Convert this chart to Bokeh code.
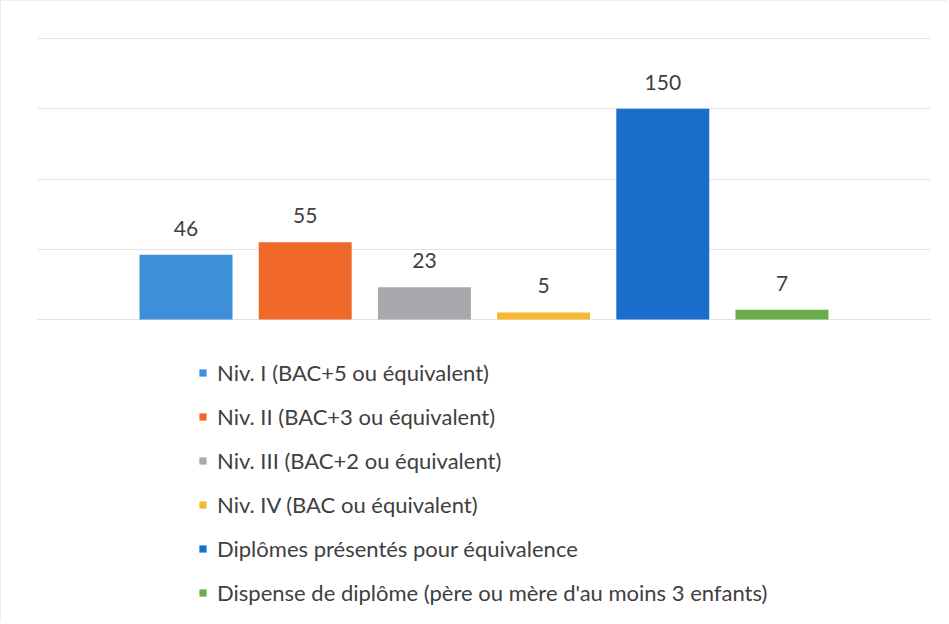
from bokeh.plotting import figure
from bokeh.models import ColumnDataSource, FixedTicker, Range1d, Legend, LegendItem, LabelSet
from bokeh.core.properties import value
from bokeh.embed import file_html
from bokeh.resources import INLINE

categories = [
    "Niv. I (BAC+5 ou équivalent)",
    "Niv. II (BAC+3 ou équivalent)",
    "Niv. III (BAC+2 ou équivalent)",
    "Niv. IV (BAC ou équivalent)",
    "Diplômes présentés pour équivalence",
    "Dispense de diplôme (père ou mère d'au moins 3 enfants)",
]
values = [46, 55, 23, 5, 150, 7]
colors = ["#3d8fd9", "#f0682a", "#a9a9ad", "#f6b830", "#1a6dca", "#6aac47"]
y_ticks = [0, 50, 100, 150, 200]

FONT = "Lato"
TEXT = "#404040"

# layout (screen px)
W, H = 947, 622
px_per_unit = 281 / 200.0
frame_top, frame_bottom, zero_y, top_y = 35, 618, 318, 37
y_end = 200 + (top_y - frame_top) / px_per_unit
y_start = -(frame_bottom - zero_y) / px_per_unit

positions = list(range(len(values)))
source = ColumnDataSource(dict(x=positions, top=values, txt=[str(v) for v in values]))

p = figure(width=W, height=H, output_backend="svg", toolbar_location=None,
           x_range=Range1d(-1.246, 6.246), y_range=Range1d(y_start, y_end),
           min_border_left=36, min_border_right=18, min_border_top=frame_top,
           min_border_bottom=H - frame_bottom)
p.styles = {"border-top": "1px solid #eeeeee", "border-left": "1px solid #eeeeee"}
p.outline_line_color = None
p.xaxis.visible = False
p.yaxis.visible = False
p.xgrid.visible = False
p.ygrid.ticker = FixedTicker(ticks=y_ticks)
p.ygrid.grid_line_color = "#e3e3e3"
p.ygrid.grid_line_width = 1

renderers = []
for i in positions:
    r = p.vbar(x=[positions[i]], top=[values[i]], bottom=0, width=0.78,
               fill_color=colors[i], line_color=None)
    renderers.append(r)

labels = LabelSet(x="x", y="top", text="txt", source=source, text_align="center",
                  text_baseline="bottom", y_offset=19, text_font=value(FONT),
                  text_font_size="21px", text_color=TEXT)
p.add_layout(labels)

items = [LegendItem(label=categories[i], renderers=[renderers[i]]) for i in positions]
legend = Legend(items=items, location=(161, 13), orientation="vertical",
                glyph_width=9, glyph_height=9, label_height=24, label_standoff=10,
                spacing=17, padding=0, margin=0,
                label_text_font=FONT, label_text_font_size="22px", label_text_color=TEXT,
                border_line_color=None, background_fill_alpha=0)
p.add_layout(legend, "center")

open("out.html", "w").write(file_html(p, INLINE))
